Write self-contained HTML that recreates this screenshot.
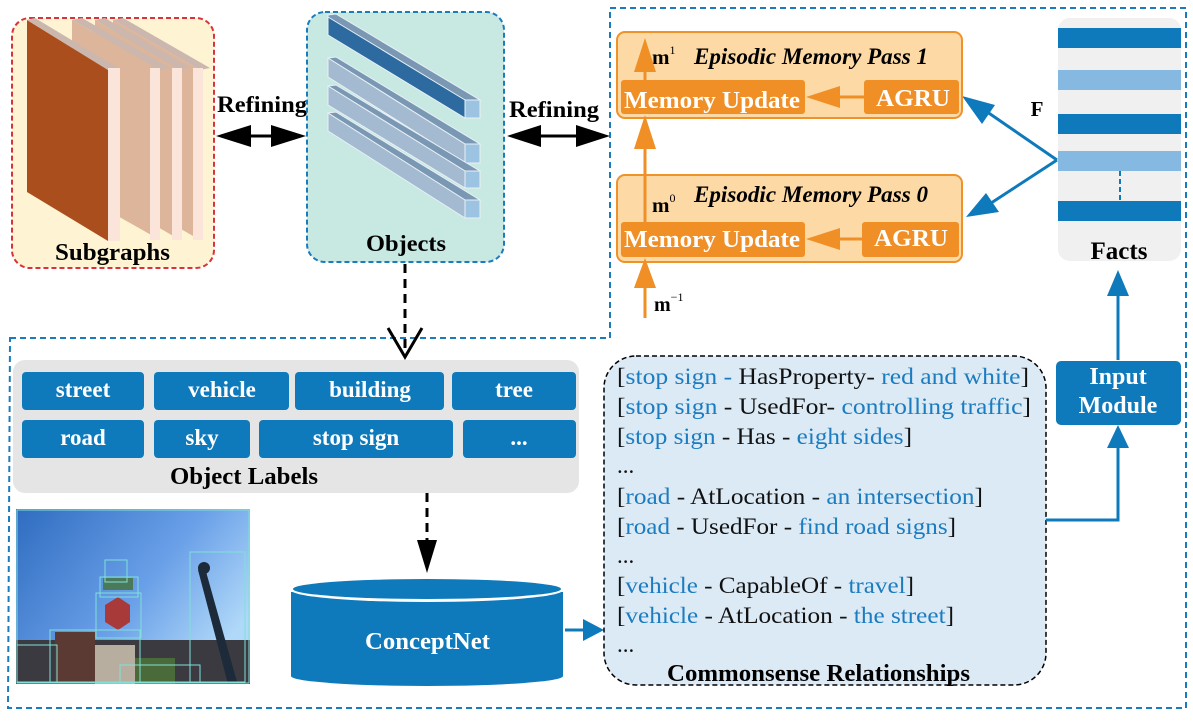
<!DOCTYPE html>
<html><head><meta charset="utf-8"><style>
html,body{margin:0;padding:0;background:#fff;}
svg{display:block;}
.b{font-family:"Liberation Serif",serif;font-weight:bold;}
.t{font-family:"Liberation Serif",serif;font-size:23px;}
</style></head><body>
<svg width="1193" height="728" viewBox="0 0 1193 728" xmlns="http://www.w3.org/2000/svg">
<defs>
<linearGradient id="sky" x1="0" y1="0" x2="1" y2="0.6">
<stop offset="0" stop-color="#2f6cc0"/><stop offset="0.6" stop-color="#6aa0e8"/><stop offset="1" stop-color="#b0d8f8"/>
</linearGradient>
</defs>
<path d="M10,338 L610,338 L610,8 L1186,8 L1186,708 L8,708 Z" fill="none" stroke="#1a7bbd" stroke-width="2" stroke-dasharray="6,4"/>

<!-- Subgraphs -->
<rect x="12" y="18" width="202" height="250" rx="18" fill="#fef3d2" stroke="#d8323a" stroke-width="2" stroke-dasharray="5,3"/>
<g>
 <polygon points="113,20 200,70 200,240 113,190" fill="#dcb59a"/>
 <polygon points="113,20 123,18 210,68 200,70" fill="#cbb7ae"/>
 <rect x="193" y="68" width="10" height="172" fill="#fbe4da"/>
 <polygon points="95,20 180,70 180,240 95,190" fill="#dcb59a"/>
 <polygon points="95,20 105,18 190,68 180,70" fill="#cbb7ae"/>
 <rect x="172" y="68" width="10" height="172" fill="#fbe4da"/>
 <polygon points="72,20 160,70 160,240 72,190" fill="#dcb59a"/>
 <polygon points="72,20 82,18 170,68 160,70" fill="#cbb7ae"/>
 <rect x="150" y="68" width="10" height="172" fill="#fbe4da"/>
 <polygon points="27,20 108,70 108,241 27,192" fill="#ab4e1d"/>
 <polygon points="27,20 35,18 118,68 108,70" fill="#cbb7ae"/>
 <rect x="108" y="68" width="12" height="173" fill="#fbe4da"/>
</g>
<text x="55" y="260" class="b" font-size="24" textLength="115" lengthAdjust="spacingAndGlyphs">Subgraphs</text>

<!-- Refining arrows -->
<text x="217" y="112" class="b" font-size="23" textLength="90" lengthAdjust="spacingAndGlyphs">Refining</text>
<line x1="235" y1="136" x2="285" y2="136" stroke="#000" stroke-width="3"/>
<polygon points="216,136 251,125 251,147" fill="#000"/>
<polygon points="306,136 271,125 271,147" fill="#000"/>
<text x="509" y="117" class="b" font-size="23" textLength="90" lengthAdjust="spacingAndGlyphs">Refining</text>
<line x1="525" y1="136" x2="590" y2="136" stroke="#000" stroke-width="3"/>
<polygon points="507,136 541,125 541,147" fill="#000"/>
<polygon points="610,136 576,125 576,147" fill="#000"/>

<!-- Objects -->
<rect x="307" y="12" width="197" height="250" rx="18" fill="#c8e8e2" stroke="#1a7bbd" stroke-width="2" stroke-dasharray="5,3"/>
<g stroke="#e8f0f6" stroke-width="1">
 <polygon points="328,15 336,14 480,100 465,100 328,33" fill="#7a98b3"/>
 <polygon points="328,17 465,100 465,118 328,35" fill="#2c6a9f"/>
 <rect x="465" y="100" width="15" height="18" fill="#9cc4e2"/>
 <polygon points="328,58 336,57 480,144 465,144" fill="#7a98b3"/>
 <polygon points="328,58 465,144 465,163 328,77" fill="#a3bad0"/>
 <rect x="465" y="144" width="15" height="19" fill="#9cc4e2"/>
 <polygon points="328,86 336,85 480,171 465,171" fill="#7a98b3"/>
 <polygon points="328,86 465,171 465,188 328,105" fill="#a3bad0"/>
 <rect x="465" y="171" width="15" height="17" fill="#9cc4e2"/>
 <polygon points="328,113 336,112 480,200 465,200" fill="#7a98b3"/>
 <polygon points="328,113 465,200 465,218 328,131" fill="#a3bad0"/>
 <rect x="465" y="200" width="15" height="18" fill="#9cc4e2"/>
</g>
<text x="366" y="251" class="b" font-size="23" textLength="80" lengthAdjust="spacingAndGlyphs">Objects</text>

<line x1="405" y1="264" x2="405" y2="348" stroke="#000" stroke-width="3" stroke-dasharray="9,6"/>
<polyline points="388,328 405,357 422,328" fill="none" stroke="#000" stroke-width="3"/>

<!-- Object labels panel -->
<rect x="13" y="360" width="566" height="133" rx="12" fill="#e5e5e5"/>
<g fill="#0e7abb">
 <rect x="22" y="372" width="122" height="38" rx="4"/>
 <rect x="154" y="372" width="135" height="38" rx="4"/>
 <rect x="295" y="372" width="149" height="38" rx="4"/>
 <rect x="452" y="372" width="124" height="38" rx="4"/>
 <rect x="22" y="420" width="122" height="38" rx="4"/>
 <rect x="154" y="420" width="96" height="38" rx="4"/>
 <rect x="259" y="420" width="194" height="38" rx="4"/>
 <rect x="463" y="420" width="113" height="38" rx="4"/>
</g>
<g class="b" font-size="23" fill="#fff" text-anchor="middle">
 <text x="83" y="397">street</text>
 <text x="222" y="397">vehicle</text>
 <text x="370" y="397">building</text>
 <text x="514" y="397">tree</text>
 <text x="83" y="445">road</text>
 <text x="202" y="445">sky</text>
 <text x="356" y="445">stop sign</text>
 <text x="519" y="445">...</text>
</g>
<text x="170" y="484" class="b" font-size="24" textLength="148" lengthAdjust="spacingAndGlyphs">Object Labels</text>

<!-- photo -->
<rect x="16" y="509" width="234" height="175" fill="url(#sky)"/>
<rect x="16" y="640" width="234" height="44" fill="#3a3a40"/>
<rect x="55" y="632" width="40" height="52" fill="#5a3a32"/>
<rect x="95" y="645" width="40" height="39" fill="#b8aea0"/>
<rect x="135" y="658" width="40" height="26" fill="#4a6a3a"/>
<polygon points="198,570 205,568 237,682 228,684" fill="#1c2a3a"/>
<circle cx="204" cy="568" r="6" fill="#1c2a3a"/>
<polygon points="105,605 118,597 130,605 130,622 118,630 105,622" fill="#a83a3a"/>
<rect x="103" y="578" width="30" height="12" fill="#4a7a5a"/>
<g fill="none" stroke="#80e0d8" stroke-width="1">
 <rect x="17" y="510" width="232" height="173"/>
 <rect x="105" y="560" width="22" height="22"/>
 <rect x="100" y="577" width="38" height="20"/>
 <rect x="96" y="593" width="45" height="45"/>
 <rect x="50" y="630" width="90" height="52"/>
 <rect x="190" y="552" width="55" height="130"/>
 <rect x="17" y="645" width="40" height="37"/>
 <rect x="120" y="665" width="80" height="17"/>
</g>

<line x1="427" y1="493" x2="427" y2="545" stroke="#000" stroke-width="3" stroke-dasharray="9,6"/>
<polygon points="417,540 437,540 427,573" fill="#000"/>

<!-- ConceptNet -->
<path d="M291,592 L291,676 A136,10 0 0 0 563,676 L563,592 Z" fill="#0e7abb"/>
<ellipse cx="427" cy="590" rx="136" ry="12" fill="#fff"/>
<ellipse cx="427" cy="589" rx="134" ry="10" fill="#0e7abb"/>
<text x="365" y="649" class="b" font-size="24" fill="#fff" textLength="125" lengthAdjust="spacingAndGlyphs">ConceptNet</text>
<line x1="565" y1="630" x2="585" y2="630" stroke="#0e7abb" stroke-width="3"/>
<polygon points="583,619 604,630 583,641" fill="#0e7abb"/>

<!-- Commonsense box -->
<rect x="604" y="356" width="442" height="329" rx="32" fill="#dceaf6" stroke="#000" stroke-width="1.5" stroke-dasharray="5,3"/>
<g class="t" fill="#111">
<text x="617" y="384" textLength="412" lengthAdjust="spacingAndGlyphs">[<tspan fill="#1b7cbf">stop sign - </tspan>HasProperty-  <tspan fill="#1b7cbf">red and white</tspan>]</text>
<text x="617" y="414" textLength="414" lengthAdjust="spacingAndGlyphs">[<tspan fill="#1b7cbf">stop sign</tspan> - UsedFor-  <tspan fill="#1b7cbf">controlling traffic</tspan>]</text>
<text x="617" y="444" textLength="295" lengthAdjust="spacingAndGlyphs">[<tspan fill="#1b7cbf">stop sign</tspan> - Has - <tspan fill="#1b7cbf">eight sides</tspan>]</text>
<text x="617" y="473">...</text>
<text x="617" y="504" textLength="366" lengthAdjust="spacingAndGlyphs">[<tspan fill="#1b7cbf">road</tspan> - AtLocation - <tspan fill="#1b7cbf">an intersection</tspan>]</text>
<text x="617" y="534" textLength="339" lengthAdjust="spacingAndGlyphs">[<tspan fill="#1b7cbf">road</tspan> - UsedFor - <tspan fill="#1b7cbf">find road signs</tspan>]</text>
<text x="617" y="563">...</text>
<text x="617" y="593" textLength="297" lengthAdjust="spacingAndGlyphs">[<tspan fill="#1b7cbf">vehicle</tspan> - CapableOf - <tspan fill="#1b7cbf">travel</tspan>]</text>
<text x="617" y="623" textLength="337" lengthAdjust="spacingAndGlyphs">[<tspan fill="#1b7cbf">vehicle</tspan> - AtLocation - <tspan fill="#1b7cbf">the street</tspan>]</text>
<text x="617" y="652">...</text>
</g>
<text x="667" y="681" class="b" font-size="24" textLength="303" lengthAdjust="spacingAndGlyphs">Commonsense Relationships</text>

<!-- Input module -->
<polyline points="1046,520 1118,520 1118,440" fill="none" stroke="#0e7abb" stroke-width="3"/>
<polygon points="1107,448 1129,448 1118,425" fill="#0e7abb"/>
<rect x="1056" y="361" width="125" height="64" rx="5" fill="#0e7abb"/>
<text x="1118" y="384" class="b" font-size="24" fill="#fff" text-anchor="middle">Input</text>
<text x="1118" y="413" class="b" font-size="24" fill="#fff" text-anchor="middle">Module</text>
<line x1="1118" y1="360" x2="1118" y2="290" stroke="#0e7abb" stroke-width="3"/>
<polygon points="1107,296 1129,296 1118,270" fill="#0e7abb"/>

<!-- Facts -->
<rect x="1058" y="18" width="123" height="243" rx="12" fill="#f0f0f0"/>
<rect x="1058" y="28" width="123" height="20" fill="#0e7abb"/>
<rect x="1058" y="70" width="123" height="20" fill="#85b9e2"/>
<rect x="1058" y="114" width="123" height="20" fill="#0e7abb"/>
<rect x="1058" y="151" width="123" height="20" fill="#85b9e2"/>
<line x1="1120" y1="171" x2="1120" y2="201" stroke="#0e7abb" stroke-width="2" stroke-dasharray="5,3"/>
<rect x="1058" y="201" width="123" height="20" fill="#0e7abb"/>
<text x="1119" y="259" class="b" font-size="25" text-anchor="middle">Facts</text>
<text x="1037" y="116" class="b" font-size="21" text-anchor="middle">F</text>

<line x1="1057" y1="160" x2="980" y2="107" stroke="#0e7abb" stroke-width="3"/>
<polygon points="962,96 995,105 982,124" fill="#0e7abb"/>
<line x1="1057" y1="160" x2="985" y2="207" stroke="#0e7abb" stroke-width="3"/>
<polygon points="966,217 986,193 999,212" fill="#0e7abb"/>

<!-- Pass 1 -->
<rect x="617" y="32" width="345" height="86" rx="8" fill="#fddaa5" stroke="#f0922a" stroke-width="2"/>
<rect x="621" y="80" width="184" height="34" rx="3" fill="#ef8f26"/>
<rect x="864" y="80" width="95" height="34" rx="3" fill="#ef8f26"/>
<text x="624" y="108" class="b" font-size="24" fill="#fff" textLength="176" lengthAdjust="spacingAndGlyphs">Memory Update</text>
<text x="876" y="106" class="b" font-size="24" fill="#fff" textLength="74" lengthAdjust="spacingAndGlyphs">AGRU</text>
<line x1="835" y1="97" x2="864" y2="97" stroke="#ef8f26" stroke-width="3"/>
<polygon points="806,97 840,86 840,108" fill="#ef8f26"/>
<text x="652" y="64" class="b" font-size="21">m<tspan font-size="12" dy="-10" font-weight="normal">1</tspan></text>
<text x="694" y="64" class="b" font-size="23" font-style="italic" textLength="234" lengthAdjust="spacingAndGlyphs">Episodic Memory Pass  1</text>

<!-- Pass 0 -->
<rect x="617" y="175" width="345" height="87" rx="8" fill="#fddaa5" stroke="#f0922a" stroke-width="2"/>
<rect x="621" y="222" width="184" height="35" rx="3" fill="#ef8f26"/>
<rect x="862" y="222" width="97" height="35" rx="3" fill="#ef8f26"/>
<text x="624" y="247" class="b" font-size="24" fill="#fff" textLength="176" lengthAdjust="spacingAndGlyphs">Memory Update</text>
<text x="874" y="246" class="b" font-size="24" fill="#fff" textLength="74" lengthAdjust="spacingAndGlyphs">AGRU</text>
<line x1="835" y1="239" x2="862" y2="239" stroke="#ef8f26" stroke-width="3"/>
<polygon points="806,239 840,228 840,250" fill="#ef8f26"/>
<text x="652" y="212" class="b" font-size="21">m<tspan font-size="12" dy="-10" font-weight="normal">0</tspan></text>
<text x="694" y="202" class="b" font-size="23" font-style="italic" textLength="234" lengthAdjust="spacingAndGlyphs">Episodic Memory Pass  0</text>

<line x1="645" y1="318" x2="645" y2="280" stroke="#ef8f26" stroke-width="3"/>
<polygon points="634,288 656,288 645,258" fill="#ef8f26"/>
<line x1="645" y1="222" x2="645" y2="140" stroke="#ef8f26" stroke-width="3"/>
<polygon points="634,149 656,149 645,115" fill="#ef8f26"/>
<line x1="645" y1="80" x2="645" y2="65" stroke="#ef8f26" stroke-width="3"/>
<polygon points="634,72 656,72 645,38" fill="#ef8f26"/>
<text x="654" y="311" class="b" font-size="20">m<tspan font-size="12" dy="-10" font-weight="normal">−1</tspan></text>
</svg>
</body></html>
